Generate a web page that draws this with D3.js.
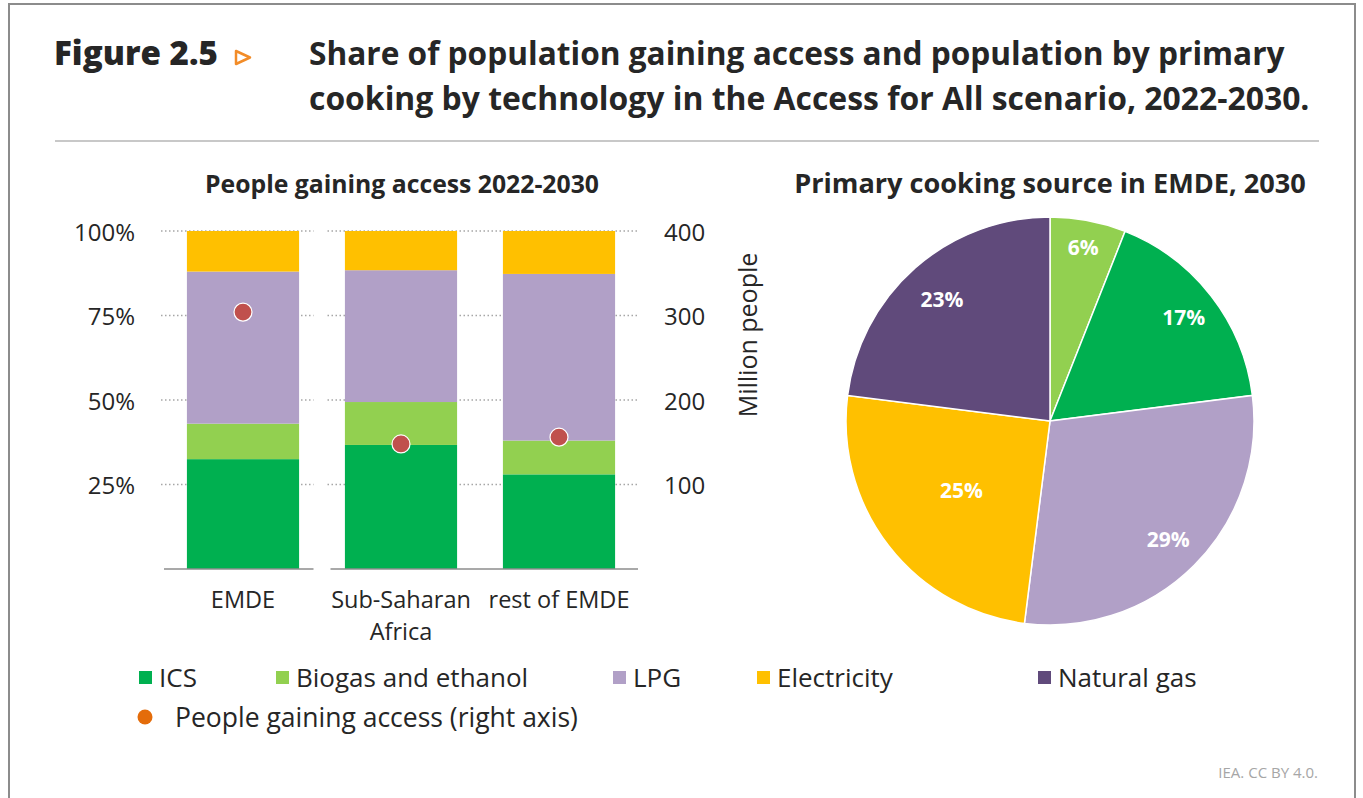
<!DOCTYPE html>
<html>
<head>
  <meta charset="utf-8">
  <script src="https://cdn.jsdelivr.net/npm/d3@7"></script>
  <style>
    body { margin: 0; background: #fff; }
    text { font-family: "Open Sans", Lato, sans-serif; fill: #262626; }
  </style>
</head>
<body>
  <svg id="chart" width="1363" height="798"></svg>
  <script>
    // bar chart: shares by technology (%), people gaining access (million)
    let categories = ["EMDE", "Sub-Saharan Africa", "rest of EMDE"]
    let ics = [32.5, 36.7, 28]
    let biogas = [10.5, 12.7, 10]
    let lpg = [45, 39, 49.3]
    let electricity = [12, 11.6, 12.7]
    let people = [304, 148, 156]
    let leftTicks = [25, 50, 75, 100]
    let rightTicks = [100, 200, 300, 400]

    // pie: primary cooking source in EMDE, 2030 (%)
    let pieNames = ["Biogas and ethanol", "ICS", "LPG", "Electricity", "Natural gas"]
    let pieValues = [6, 17, 29, 25, 23]

    let techNames = ["ICS", "Biogas and ethanol", "LPG", "Electricity"]
    let colors = {
      "ICS": "#00b050",
      "Biogas and ethanol": "#92d050",
      "LPG": "#b1a0c7",
      "Electricity": "#ffc000",
      "Natural gas": "#604a7b"
    }

    let svg = d3.select("#chart")

    // helper: set font-size so text spans a given width
    function fit(sel, w) {
      sel.style("font-size", "20px")
      let len = sel.node().getComputedTextLength()
      sel.style("font-size", (20 * w / len) + "px")
      return sel
    }

    // frame
    svg.append("rect")
       .attr("x", 9).attr("y", 4)
       .attr("width", 1346).attr("height", 810)
       .attr("fill", "none").attr("stroke", "#8c8c8c").attr("stroke-width", 2)

    // heading
    let head = svg.append("g").style("font-weight", "bold")
    fit(head.append("text").attr("x", 54).attr("y", 65)
            .style("font-weight", 800).text("Figure 2.5"), 164)
    head.append("path")
        .attr("d", "M236,51 L250,57.5 L236,64 Z")
        .attr("fill", "none").attr("stroke", "#f28c28").attr("stroke-width", 2.5)
        .attr("stroke-linejoin", "round")
    fit(head.append("text").attr("x", 309).attr("y", 65)
            .text("Share of population gaining access and population by primary"), 976)
    fit(head.append("text").attr("x", 309).attr("y", 110)
            .text("cooking by technology in the Access for All scenario, 2022-2030."), 1001)

    svg.append("line")
       .attr("x1", 55).attr("x2", 1319).attr("y1", 141).attr("y2", 141)
       .attr("stroke", "#c8c8c8").attr("stroke-width", 2)

    // ---- bar chart ----
    let x = d3.scaleBand()
              .domain(categories)
              .range([164, 638])
              .paddingInner(0.29)
              .paddingOuter(0.145)

    let yL = d3.scaleLinear().domain([0, 100]).range([569, 231])
    let yR = d3.scaleLinear().domain([0, 400]).range([569, 231])

    fit(svg.append("text").attr("x", 402).attr("y", 193)
           .attr("text-anchor", "middle").style("font-weight", "bold")
           .text("People gaining access 2022-2030"), 394)

    // two panels: EMDE alone, then regions
    let gapX = (x("EMDE") + x.bandwidth() + x(categories[1])) / 2
    let panels = [[164, gapX - 8.5], [gapX + 8.5, 638]]

    let grid = svg.append("g")
    panels.forEach(p => {
      grid.selectAll(null)
          .data(leftTicks)
          .enter()
          .append("line")
          .attr("x1", p[0] - 3).attr("x2", p[1])
          .attr("y1", d => yL(d)).attr("y2", d => yL(d))
          .attr("stroke", "#a6a6a6").attr("stroke-width", 1.5)
          .attr("stroke-dasharray", "1.5,2.5")
    })

    let stack = d3.stack().keys(techNames)
    let rows = categories.map((c, i) => ({
      cat: c, "ICS": ics[i], "Biogas and ethanol": biogas[i],
      "LPG": lpg[i], "Electricity": electricity[i]
    }))
    let layers = stack(rows)

    svg.append("g")
       .selectAll("g")
       .data(layers)
       .enter()
       .append("g")
       .attr("fill", d => colors[d.key])
       .selectAll("rect")
       .data(d => d)
       .enter()
       .append("rect")
       .attr("x", d => x(d.data.cat))
       .attr("width", x.bandwidth())
       .attr("y", d => yL(d[1]))
       .attr("height", d => yL(d[0]) - yL(d[1]))

    panels.forEach(p => {
      svg.append("line")
         .attr("x1", p[0]).attr("x2", p[1])
         .attr("y1", 569).attr("y2", 569)
         .attr("stroke", "#8c8c8c").attr("stroke-width", 1.5)
    })

    svg.append("g")
       .selectAll("circle")
       .data(people)
       .enter()
       .append("circle")
       .attr("cx", (d, i) => x(categories[i]) + x.bandwidth() / 2)
       .attr("cy", d => yR(d))
       .attr("r", 9)
       .attr("fill", "#c0504d")
       .attr("stroke", "#fff").attr("stroke-width", 1.2)

    let axisFont = "24px"
    svg.append("g")
       .selectAll("text")
       .data(leftTicks)
       .enter()
       .append("text")
       .attr("x", 135).attr("y", d => yL(d))
       .attr("text-anchor", "end").attr("dominant-baseline", "central")
       .style("font-size", axisFont)
       .text(d => d + "%")

    svg.append("g")
       .selectAll("text")
       .data(rightTicks)
       .enter()
       .append("text")
       .attr("x", 664).attr("y", d => yR(d))
       .attr("dominant-baseline", "central")
       .style("font-size", axisFont)
       .text(d => d)

    svg.append("text")
       .attr("transform", "translate(757,335) rotate(-90)")
       .attr("text-anchor", "middle")
       .style("font-size", "25px")
       .text("Million people")

    let catLabels = svg.append("g")
                       .selectAll("text")
                       .data(categories)
                       .enter()
                       .append("text")
                       .attr("text-anchor", "middle")
                       .style("font-size", "23.5px")
    catLabels.each(function(d) {
      let words = d === "Sub-Saharan Africa" ? ["Sub-Saharan", "Africa"] : [d]
      let t = d3.select(this)
      words.forEach((w, k) => {
        t.append("tspan")
         .attr("x", x(d) + x.bandwidth() / 2)
         .attr("y", 608 + k * 32)
         .text(w)
      })
    })

    // ---- pie ----
    fit(svg.append("text").attr("x", 1050).attr("y", 193)
           .attr("text-anchor", "middle").style("font-weight", "bold")
           .text("Primary cooking source in EMDE, 2030"), 512)

    let R = 204
    let pieG = svg.append("g").attr("transform", "translate(1050,421)")
    let pie = d3.pie().sort(null).value(d => d)
    let arcs = pie(pieValues)
    let arc = d3.arc().innerRadius(0).outerRadius(R)
    let labelR = [0.87, 0.83, 0.82, 0.55, 0.8]

    pieG.selectAll("path")
        .data(arcs)
        .enter()
        .append("path")
        .attr("d", arc)
        .attr("fill", (d, i) => colors[pieNames[i]])
        .attr("stroke", "#fff").attr("stroke-width", 1.5)

    pieG.selectAll("text")
        .data(arcs)
        .enter()
        .append("text")
        .attr("transform", (d, i) => {
          let a = (d.startAngle + d.endAngle) / 2
          let r = R * labelR[i]
          return "translate(" + (Math.sin(a) * r) + "," + (-Math.cos(a) * r) + ")"
        })
        .attr("text-anchor", "middle").attr("dominant-baseline", "central")
        .style("font-size", "21px").style("font-weight", "bold")
        .style("fill", "#fff")
        .text(d => d.value + "%")

    // ---- legend ----
    let legendItems = ["ICS", "Biogas and ethanol", "LPG", "Electricity", "Natural gas"]
    let legendX = [139, 276, 613, 757, 1038]
    let leg = svg.append("g")
    legendItems.forEach((k, i) => {
      leg.append("rect")
         .attr("x", legendX[i]).attr("y", 671)
         .attr("width", 13).attr("height", 13)
         .attr("fill", colors[k])
      leg.append("text")
         .attr("x", legendX[i] + 20).attr("y", 677)
         .attr("dominant-baseline", "central")
         .style("font-size", "26px")
         .text(k)
    })
    leg.append("circle")
       .attr("cx", 145).attr("cy", 717).attr("r", 7.5)
       .attr("fill", "#e46c0a")
    leg.append("text")
       .attr("x", 175).attr("y", 717)
       .attr("dominant-baseline", "central")
       .style("font-size", "26.5px")
       .text("People gaining access (right axis)")

    svg.append("text")
       .attr("x", 1318).attr("y", 772)
       .attr("text-anchor", "end").attr("dominant-baseline", "central")
       .style("font-size", "15px").style("fill", "#a6a6a6")
       .text("IEA. CC BY 4.0.")
  </script>
</body>
</html>
